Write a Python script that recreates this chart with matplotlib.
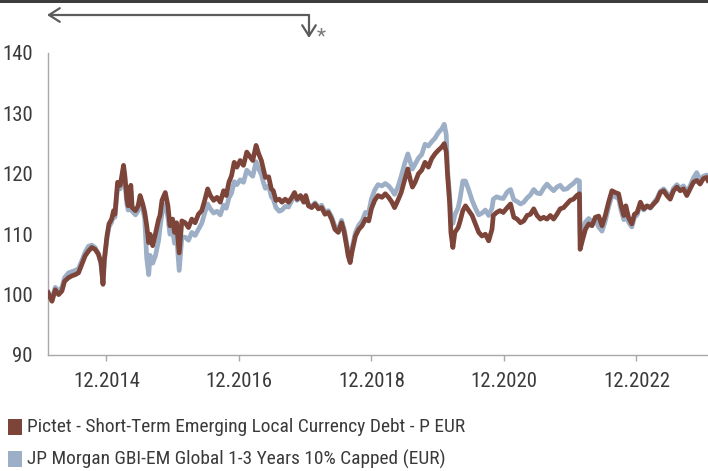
import matplotlib
matplotlib.use("Agg")
import matplotlib.pyplot as plt
from matplotlib import font_manager
from matplotlib.patches import FancyArrowPatch, Rectangle

# ---- choose a narrow/condensed family if one is installed ----
def pick_family():
    names = {f.name for f in font_manager.fontManager.ttflist}
    preferred = ["Roboto Condensed", "Liberation Sans Narrow", "DejaVu Sans Condensed",
                 "Open Sans Condensed", "Noto Sans Condensed", "Ubuntu Condensed",
                 "Lato Condensed", "Inter Condensed"]
    for p in preferred:
        if p in names:
            return p, None
    for f in font_manager.fontManager.ttflist:
        st = str(f.stretch).lower()
        if ("condensed" in st or st in ("semi-condensed",)) and str(f.weight) in ("400", "normal", "regular") \
                and f.style == "normal":
            return f.name, "condensed"
    for f in font_manager.fontManager.ttflist:
        n = f.name.lower()
        if ("condensed" in n or "narrow" in n) and f.style == "normal":
            return f.name, None
    for p in ["Roboto", "Liberation Sans", "Lato"]:
        if p in names:
            return p, None
    return "DejaVu Sans", None

FAMILY, STRETCH = pick_family()
plt.rcParams['font.family'] = [FAMILY, 'DejaVu Sans']
if STRETCH:
    plt.rcParams['font.stretch'] = STRETCH

# ---- data (decimal years, indexed values) ----
dates = [
    2014.12, 2014.18, 2014.23, 2014.28, 2014.33, 2014.37, 2014.43, 2014.48, 2014.53, 2014.58,
    2014.63, 2014.68, 2014.73, 2014.78, 2014.83, 2014.88, 2014.92, 2014.95, 2014.97, 2015.01,
    2015.04, 2015.08, 2015.11, 2015.13, 2015.17, 2015.21, 2015.26, 2015.28, 2015.31, 2015.33,
    2015.37, 2015.39, 2015.44, 2015.48, 2015.51, 2015.55, 2015.58, 2015.61, 2015.64, 2015.66,
    2015.70, 2015.74, 2015.79, 2015.81, 2015.84, 2015.89, 2015.93, 2015.96, 2016.00, 2016.03,
    2016.06, 2016.10, 2016.14, 2016.19, 2016.24, 2016.29, 2016.34, 2016.39, 2016.44, 2016.49,
    2016.53, 2016.57, 2016.62, 2016.67, 2016.72, 2016.77, 2016.81, 2016.85, 2016.89, 2016.93,
    2016.97, 2017.02, 2017.07, 2017.12, 2017.17, 2017.21, 2017.26, 2017.30, 2017.34, 2017.37,
    2017.40, 2017.45, 2017.49, 2017.52, 2017.56, 2017.61, 2017.65, 2017.70, 2017.75, 2017.80,
    2017.84, 2017.88, 2017.93, 2017.98, 2018.01, 2018.05, 2018.10, 2018.15, 2018.20, 2018.25,
    2018.30, 2018.35, 2018.40, 2018.45, 2018.50, 2018.55, 2018.59, 2018.63, 2018.65, 2018.68,
    2018.71, 2018.76, 2018.81, 2018.86, 2018.91, 2018.96, 2019.00, 2019.05, 2019.10, 2019.16,
    2019.21, 2019.26, 2019.31, 2019.35, 2019.40, 2019.45, 2019.50, 2019.55, 2019.59, 2019.62,
    2019.66, 2019.71, 2019.76, 2019.81, 2019.86, 2019.91, 2019.96, 2020.01, 2020.06, 2020.10,
    2020.13, 2020.15, 2020.18, 2020.20, 2020.23, 2020.26, 2020.31, 2020.34, 2020.38, 2020.42,
    2020.47, 2020.52, 2020.57, 2020.62, 2020.67, 2020.72, 2020.77, 2020.82, 2020.84, 2020.89,
    2020.94, 2020.99, 2021.05, 2021.10, 2021.15, 2021.20, 2021.25, 2021.30, 2021.35, 2021.40,
    2021.45, 2021.50, 2021.55, 2021.60, 2021.65, 2021.70, 2021.75, 2021.80, 2021.85, 2021.90,
    2021.95, 2022.00, 2022.05, 2022.10, 2022.14, 2022.15, 2022.19, 2022.23, 2022.28, 2022.33,
    2022.38, 2022.43, 2022.48, 2022.53, 2022.58, 2022.63, 2022.68, 2022.73, 2022.77, 2022.81,
    2022.84, 2022.88, 2022.93, 2022.97, 2023.01, 2023.06, 2023.11, 2023.16, 2023.21, 2023.26,
    2023.31, 2023.36, 2023.41, 2023.46, 2023.51, 2023.56, 2023.61, 2023.66, 2023.71, 2023.76,
    2023.81, 2023.86, 2023.91, 2023.96, 2024.01, 2024.06, 2024.08,
]

fund = [
    100.3, 98.9, 100.8, 100.0, 100.6, 102.2, 102.8, 103.1, 103.3, 103.6,
    105.0, 106.4, 107.2, 107.8, 107.5, 106.7, 105.3, 101.7, 105.8, 109.7,
    111.7, 112.5, 113.9, 113.3, 118.6, 118.1, 121.4, 119.7, 115.8, 114.7,
    118.1, 114.4, 113.9, 114.7, 116.4, 115.0, 113.6, 111.4, 108.6, 110.0,
    108.1, 110.0, 112.5, 113.1, 115.6, 116.9, 114.7, 111.4, 112.5, 110.3,
    111.9, 106.9, 112.2, 111.9, 111.1, 112.5, 111.9, 113.3, 113.9, 115.8,
    117.5, 116.4, 115.6, 116.1, 115.3, 117.2, 116.4, 118.6, 119.7, 121.9,
    121.1, 122.2, 121.4, 123.6, 122.8, 122.2, 124.7, 123.3, 122.2, 120.8,
    119.4, 119.5, 117.5, 117.2, 115.6, 115.8, 115.3, 115.8, 115.3, 116.1,
    116.9, 115.8, 116.4, 115.3, 116.4, 114.7, 114.4, 115.0, 114.2, 114.4,
    113.3, 113.6, 112.5, 110.8, 110.3, 111.9, 110.3, 107.8, 106.4, 105.3,
    107.2, 109.7, 110.8, 111.4, 112.5, 112.2, 114.2, 115.6, 116.4, 116.1,
    116.7, 116.1, 115.3, 114.4, 115.6, 116.9, 118.9, 120.8, 118.9, 117.8,
    118.6, 120.0, 120.6, 121.9, 121.1, 122.5, 123.3, 123.9, 124.4, 125.0,
    123.6, 119.7, 115.3, 110.3, 107.8, 110.3, 111.1, 112.2, 113.9, 114.7,
    113.9, 113.1, 111.7, 110.3, 109.7, 110.0, 108.9, 110.8, 113.1, 113.6,
    113.9, 113.6, 114.4, 115.0, 112.8, 112.5, 111.9, 112.2, 113.1, 113.3,
    114.2, 113.1, 112.5, 112.8, 112.5, 113.1, 112.5, 113.3, 114.2, 114.4,
    115.0, 115.6, 115.8, 116.4, 116.7, 107.5, 109.2, 110.8, 111.7, 111.4,
    112.8, 113.0, 111.4, 113.1, 115.3, 117.2, 116.9, 116.7, 114.7, 113.1,
    114.7, 112.8, 111.7, 113.3, 113.6, 115.3, 114.2, 114.7, 114.4, 115.0,
    115.6, 116.9, 117.2, 116.4, 115.8, 117.2, 117.8, 117.2, 117.5, 116.4,
    117.5, 118.6, 118.9, 118.3, 119.2, 119.4, 118.9,
]

benchmark = [
    100.5, 99.3, 101.2, 100.6, 101.2, 102.8, 103.6, 103.8, 104.0, 104.3,
    105.6, 107.0, 108.0, 108.2, 107.8, 106.8, 105.0, 101.9, 105.5, 109.3,
    111.2, 112.0, 113.3, 112.8, 117.9, 117.5, 120.6, 119.0, 115.0, 114.0,
    117.3, 113.8, 113.2, 113.9, 115.6, 114.2, 112.5, 106.0, 103.3, 106.5,
    105.2, 106.4, 109.0, 111.0, 113.5, 114.9, 112.8, 110.0, 110.7, 108.5,
    109.8, 104.0, 109.5, 109.5, 109.0, 110.3, 109.8, 110.8, 111.8, 113.7,
    115.0, 114.2, 113.5, 113.8, 113.2, 114.8, 114.3, 116.0, 116.8, 118.7,
    118.2, 119.0, 118.6, 120.6, 120.0, 119.6, 122.0, 120.8, 119.9, 118.6,
    117.6, 118.0, 116.2, 115.8, 114.4, 113.8, 114.0, 114.6, 114.5, 115.6,
    116.6, 115.6, 116.2, 115.4, 116.2, 114.9, 114.6, 115.2, 114.4, 114.8,
    113.6, 113.9, 112.9, 111.3, 110.8, 112.3, 110.8, 108.3, 107.0, 106.0,
    107.8, 110.3, 111.5, 112.2, 113.6, 113.6, 115.8, 117.3, 118.2, 118.0,
    118.4, 118.0, 117.3, 116.6, 117.8, 119.6, 121.6, 123.3, 121.9, 120.8,
    121.6, 122.6, 123.2, 124.9, 124.6, 125.3, 125.9, 126.8, 127.4, 128.2,
    126.5, 120.5, 116.5, 113.2, 111.8, 113.2, 114.4, 116.0, 118.8, 118.8,
    117.3, 115.6, 114.3, 113.2, 113.5, 114.0, 113.1, 114.3, 115.8, 116.2,
    116.0, 115.9, 117.0, 117.4, 115.7, 115.4, 115.0, 115.3, 116.0, 116.5,
    117.4, 116.8, 116.7, 117.6, 118.3, 117.7, 117.2, 117.8, 118.1, 117.4,
    117.5, 118.0, 118.4, 119.0, 118.8, 109.9, 110.6, 112.0, 112.6, 112.0,
    112.5, 111.2, 110.5, 112.2, 114.5, 116.4, 116.2, 115.9, 113.9, 112.4,
    113.8, 112.0, 111.2, 112.8, 113.2, 115.0, 114.0, 114.6, 114.3, 115.2,
    115.9, 117.1, 117.5, 116.8, 116.2, 117.6, 118.2, 117.6, 118.0, 117.0,
    118.0, 119.3, 120.2, 119.0, 119.6, 119.8, 119.3,
]

fund_label = "Pictet - Short-Term Emerging Local Currency Debt - P EUR"
bench_label = "JP Morgan GBI-EM Global 1-3 Years 10% Capped (EUR)"
xtick_pos = [2015.0, 2017.0, 2019.0, 2021.0, 2023.0]
xtick_labels = ["12.2014", "12.2016", "12.2018", "12.2020", "12.2022"]
ytick_vals = [90, 100, 110, 120, 130, 140]

FUND_C = "#7d4439"
BENCH_C = "#9dafc6"
TEXT_C = "#3a3a3a"
AXIS_C = "#a8a8a8"

W, H = 708, 471
fig = plt.figure(figsize=(W / 100, H / 100), dpi=100)
renderer = fig.canvas.get_renderer()

def fit_size(text, target_px, base=15.0, max_size=16.0):
    t = fig.text(0, 0, text, fontsize=base)
    w = t.get_window_extent(renderer=renderer).width
    t.remove()
    return min(max_size, base * target_px / w)

legend_fs = fit_size(fund_label, 440)
tick_fs = fit_size("12.2014", 67)

ax = fig.add_axes([48 / W, 1 - 355 / H, (708 - 48) / W, (355 - 53) / H])

ax.plot(dates, benchmark, color=BENCH_C, lw=3.4, solid_joinstyle='round', zorder=2)
ax.plot(dates, fund, color=FUND_C, lw=3.4, solid_joinstyle='round', zorder=3)

ax.set_xlim(2014.12, 2024.08)
ax.set_ylim(90, 140)
ax.set_xticks(xtick_pos)
ax.set_xticklabels(xtick_labels)
ax.set_yticks(ytick_vals)
ax.set_yticklabels([str(v) for v in ytick_vals])

for s in ["top", "right"]:
    ax.spines[s].set_visible(False)
ax.spines["left"].set_color(AXIS_C)
ax.spines["bottom"].set_color(AXIS_C)
ax.spines["left"].set_linewidth(1.0)
ax.spines["bottom"].set_linewidth(1.0)
ax.tick_params(axis='x', length=4, width=1, color=AXIS_C, labelsize=tick_fs, labelcolor=TEXT_C, pad=8)
ax.tick_params(axis='y', length=0, labelsize=tick_fs, labelcolor=TEXT_C, pad=11)

# top dark bar
fig.add_artist(Rectangle((0, 1 - 3 / H), 1, 3 / H, transform=fig.transFigure,
                         color="#3d3d3d", lw=0))

# arrow annotation
ARROW_C = "#5c5c5c"
def fx(px):
    return px / W
def fy(py):
    return 1 - py / H
fig.add_artist(FancyArrowPatch((fx(309), fy(15)), (fx(47), fy(15)), transform=fig.transFigure,
                               arrowstyle='->,head_length=0.55,head_width=0.35',
                               mutation_scale=14, color=ARROW_C, lw=1.6,
                               shrinkA=0, shrinkB=0))
fig.add_artist(FancyArrowPatch((fx(309), fy(15)), (fx(309), fy(38)), transform=fig.transFigure,
                               arrowstyle='->,head_length=0.55,head_width=0.35',
                               mutation_scale=14, color=ARROW_C, lw=1.6,
                               shrinkA=0, shrinkB=0))
fig.text(fx(317), fy(37), "*", color="#7a7a7a", fontsize=15, ha='left', va='center')

# legend
for i, (lab, col) in enumerate([(fund_label, FUND_C), (bench_label, BENCH_C)]):
    yc = 427 + i * 32
    fig.add_artist(Rectangle((fx(8), fy(yc + 8)), 14 / W, 16 / H, transform=fig.transFigure,
                             color=col, lw=0))
    fig.text(fx(27), fy(yc), lab, color=TEXT_C, fontsize=legend_fs, ha='left', va='center')

fig.savefig("out.png", dpi=100)
